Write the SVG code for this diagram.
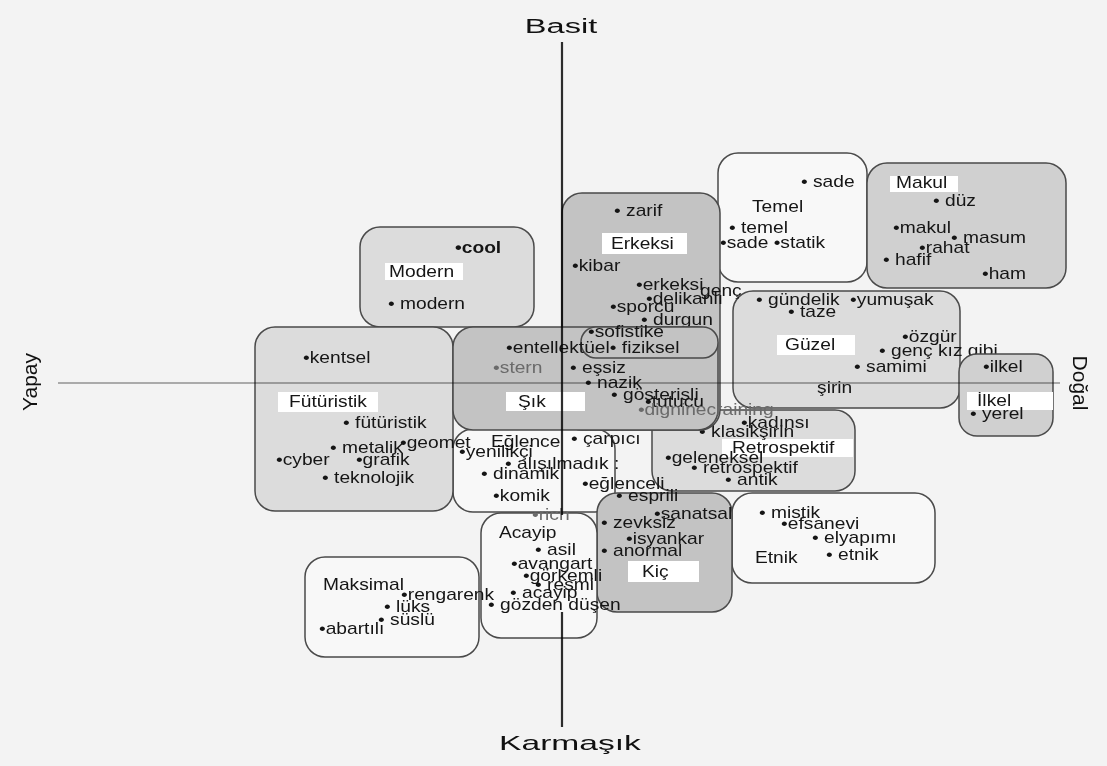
<svg xmlns="http://www.w3.org/2000/svg" width="1107" height="766" viewBox="0 0 1107 766">
<style>
.bx{stroke:#4a4a4a;stroke-width:1.5}
.fd{fill:#c3c3c3}.fm{fill:#d0d0d0}.fl{fill:#dcdcdc}.fw{fill:#f8f8f8}
.lb{fill:#ffffff}
text{font-family:"Liberation Sans",Arial,sans-serif;font-size:16px;fill:#151515}
.ax{font-size:21px;fill:#111}
.gr{fill:#6a6a6a}
.b{font-weight:bold}
.axis{fill:none;mix-blend-mode:multiply}
</style>
<rect width="1107" height="766" fill="#f3f3f3"/>

<g id="temel">
<rect class="bx fw" x="718" y="153" width="149" height="129" rx="20"/>
<g transform="scale(1.2,1)">
<text x="667.5" y="187">• sade</text>
<text x="626.7" y="212">Temel</text>
<text x="607.5" y="233">• temel</text>
<text x="600" y="248">•sade •statik</text>
</g></g>

<g id="makul">
<rect class="bx fm" x="867" y="163" width="199" height="125" rx="20"/>
<rect class="lb" x="890" y="176" width="68" height="16"/>
<g transform="scale(1.2,1)">
<text x="746.7" y="188">Makul</text>
<text x="777.5" y="206">• düz</text>
<text x="744.2" y="233">•makul</text>
<text x="792.5" y="243">• masum</text>
<text x="765.9" y="253">•rahat</text>
<text x="735.8" y="265">• hafif</text>
<text x="818.3" y="279">•ham</text>
</g></g>

<g id="guzel">
<rect class="bx fl" x="733" y="291" width="227" height="117" rx="20"/>
<rect class="lb" x="777" y="335" width="78" height="20"/>
<g transform="scale(1.2,1)">
<text x="630" y="305">• gündelik</text>
<text x="708.4" y="305">•yumuşak</text>
<text x="656.6" y="317">• taze</text>
<text x="654.2" y="350">Güzel</text>
<text x="751.7" y="342">•özgür</text>
<text x="732.5" y="356">• genç kız gibi</text>
<text x="711.7" y="372">• samimi</text>
<text x="680.9" y="393">şirin</text>
</g></g>

<g id="ilkel">
<rect class="bx fm" x="959" y="354" width="94" height="82" rx="18"/>
<rect class="lb" x="967" y="392" width="86" height="18"/>
<g transform="scale(1.2,1)">
<text x="819.2" y="372">•ilkel</text>
<text x="814.2" y="406">İlkel</text>
<text x="808.3" y="419">• yerel</text>
</g></g>

<g id="modern">
<rect class="bx fl" x="360" y="227" width="174" height="100" rx="20"/>
<rect class="lb" x="385" y="263" width="78" height="17"/>
<g transform="scale(1.2,1)">
<text class="b" x="379.2" y="253">•cool</text>
<text x="324.2" y="277">Modern</text>
<text x="323.3" y="309">• modern</text>
</g></g>

<g id="retrospektif">
<rect class="bx fl" x="652" y="410" width="203" height="81" rx="20"/>
<rect class="lb" x="722" y="439" width="131" height="18"/>
<g transform="scale(1.2,1)">
<text x="617.5" y="428">•kadınsı</text>
<text x="582.5" y="437">• klasikşirin</text>
<text x="610" y="453">Retrospektif</text>
<text x="554.1" y="463">•geleneksel</text>
<text x="575.8" y="473">• retrospektif</text>
<text x="604.2" y="485">• antik</text>
</g></g>

<g id="eglence">
<rect class="bx fw" x="453" y="429" width="162" height="83" rx="20"/>
<g transform="scale(1.2,1)">
<text x="409.2" y="447">Eğlence</text>
<text x="475.8" y="444">• çarpıcı</text>
<text x="382.5" y="457">•yenilikçi</text>
<text x="420.8" y="469">• alışılmadık :</text>
<text x="400.9" y="479">• dinamik</text>
<text x="485" y="489">•eğlenceli</text>
<text x="410.9" y="501">•komik</text>
</g></g>

<g id="futuristik">
<rect class="bx fl" x="255" y="327" width="198" height="184" rx="20"/>
<rect class="lb" x="278" y="392" width="100" height="20"/>
<g transform="scale(1.2,1)">
<text x="252.5" y="363">•kentsel</text>
<text x="240.9" y="407">Fütüristik</text>
<text x="285.9" y="428">• fütüristik</text>
<text x="333.3" y="448">•geomet</text>
<text x="275" y="453">• metalik</text>
<text x="230" y="465">•cyber</text>
<text x="296.6" y="465">•grafik</text>
<text x="268.4" y="483">• teknolojik</text>
</g></g>

<g id="etnik">
<rect class="bx fw" x="732" y="493" width="203" height="90" rx="20"/>
<g transform="scale(1.2,1)">
<text x="632.5" y="518">• mistik</text>
<text x="650.9" y="529">•efsanevi</text>
<text x="676.7" y="543">• elyapımı</text>
<text x="629.1" y="563">Etnik</text>
<text x="688.3" y="560">• etnik</text>
</g></g>

<g id="erkeksi">
<rect class="bx fd" x="562" y="193" width="158" height="237" rx="20"/>
<rect class="lb" x="602" y="233" width="85" height="21"/>
<g transform="scale(1.2,1)">
<text x="511.7" y="216">• zarif</text>
<text x="509.1" y="249">Erkeksi</text>
<text x="476.7" y="271">•kibar</text>
<text x="530" y="290">•erkeksi</text>
<text x="583.4" y="296">genç</text>
<text x="538.3" y="304">•delikanlı</text>
<text x="508.4" y="312">•sporcu</text>
<text x="534.2" y="325">• durgun</text>
</g></g>

<g id="sik">
<rect class="bx fd" x="453" y="327" width="265" height="103" rx="20"/>
<rect class="bx fd" x="581" y="327" width="137" height="31" rx="15"/>
<rect class="lb" x="506" y="392" width="79" height="19"/>
<g transform="scale(1.2,1)">
<text x="490" y="337">•sofistike</text>
<text x="421.7" y="353">•entellektüel• fiziksel</text>
<text class="gr" x="410.9" y="373">•stern</text>
<text x="475" y="373">• eşsiz</text>
<text x="487.5" y="388">• nazik</text>
<text x="431.7" y="407">Şık</text>
<text x="509.1" y="400">• gösterisli</text>
<text x="537.5" y="407">•tutucu</text>
<text class="gr" x="531.6" y="415">•digninecraining</text>
</g></g>

<g id="kic">
<rect class="bx fd" x="597" y="493" width="135" height="119" rx="20"/>
<rect class="lb" x="628" y="561" width="71" height="21"/>
<g transform="scale(1.2,1)">
<text x="513.4" y="501">• esprili</text>
<text x="545" y="519">•sanatsal</text>
<text x="500.8" y="528">• zevksiz</text>
<text x="521.7" y="544">•isyankar</text>
<text x="500.8" y="556">• anormal</text>
<text x="535" y="577">Kiç</text>
</g></g>

<g id="acayip">
<rect class="bx fw" x="481" y="513" width="116" height="125" rx="20"/>
<g transform="scale(1.2,1)">
<text class="gr" x="443.3" y="520">•rich</text>
<text x="415.8" y="538">Acayip</text>
<text x="445.9" y="555">• asil</text>
<text x="425.8" y="569">•avangart</text>
<text x="435.8" y="581">•görkemli</text>
<text x="445.9" y="590">• resmi</text>
<text x="425" y="598">• acayip</text>
<text x="406.7" y="610">• gözden düşen</text>
</g></g>

<g id="maksimal">
<rect class="bx fw" x="305" y="557" width="174" height="100" rx="20"/>
<g transform="scale(1.2,1)">
<text x="269.1" y="590">Maksimal</text>
<text x="334.2" y="600">•rengarenk</text>
<text x="320" y="612">• lüks</text>
<text x="315" y="625">• süslü</text>
<text x="265.8" y="634">•abartılı</text>
</g></g>

<g id="connectors">
<path class="axis" d="M562 42 V515 M562 612 V727" stroke="#2e2e2e" stroke-width="2.2"/>
<path class="axis" d="M58 383 H1060" stroke="#9a9a9a" stroke-width="1.5"/>
</g>

<g id="axis-labels">
<text class="ax" transform="translate(561,33) scale(1.55,1)" text-anchor="middle">Basit</text>
<text class="ax" transform="translate(570,750) scale(1.6,1)" text-anchor="middle">Karmaşık</text>
<text class="ax" transform="translate(37,382) rotate(-90)" text-anchor="middle">Yapay</text>
<text class="ax" transform="translate(1073,383) rotate(90)" text-anchor="middle">Doğal</text>
</g>
</svg>
